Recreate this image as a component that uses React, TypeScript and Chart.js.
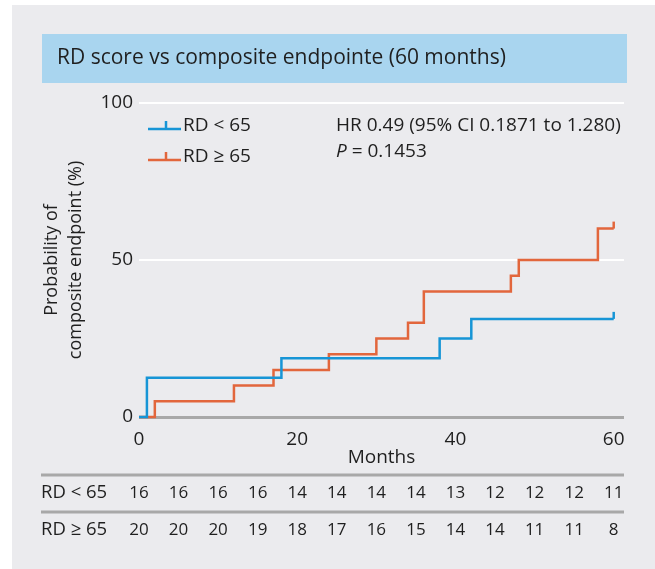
import React, { useEffect, useRef } from 'react';
import { Chart, registerables } from 'chart.js';

Chart.register(...registerables);

// ---------- data ----------
const TITLE = 'RD score vs composite endpointe (60 months)';
const SERIES_LOW = 'RD < 65';
const SERIES_HIGH = 'RD ≥ 65';
const X_TITLE = 'Months';
const Y_TITLE = ['Probability of', 'composite endpoint (%)'];
const HR_TEXT = 'HR 0.49 (95% CI 0.1871 to 1.280)';
const P_LABEL = 'P';
const P_VALUE = ' = 0.1453';

const lowTimes = [0, 1, 18, 38, 42, 60];
const lowProb = [0, 12.5, 18.75, 25, 31.25, 31.25];
const highTimes = [0, 2, 12, 17, 24, 30, 34, 36, 47, 48, 58, 60];
const highProb = [0, 5, 10, 15, 20, 25, 30, 40, 45, 50, 60, 60];
const lowCensor = [60];
const highCensor = [60];

const xTicks = [0, 20, 40, 60];
const yTicks = [0, 50, 100];

const riskTimes = [0, 5, 10, 15, 20, 25, 30, 35, 40, 45, 50, 55, 60];
const lowAtRisk = [16, 16, 16, 16, 14, 14, 14, 14, 13, 12, 12, 12, 11];
const highAtRisk = [20, 20, 20, 19, 18, 17, 16, 15, 14, 14, 11, 11, 8];

// ---------- styles ----------
const FONT = '"Open Sans", "Noto Sans", sans-serif';
const TEXT = '#1f1f1f';
const BLUE = '#1795d6';
const ORANGE = '#e2663c';
const PANEL = '#ebebee';
const BAND = '#a9d5ef';
const RULE = '#a8a8a8';

const toPoints = (t: number[], p: number[]) => t.map((x, i) => ({ x, y: p[i] }));
const valueAt = (t: number[], p: number[], time: number) => {
  let v = p[0];
  for (let i = 0; i < t.length; i++) if (t[i] <= time) v = p[i];
  return v;
};

const series = [
  { label: SERIES_LOW, color: BLUE, times: lowTimes, prob: lowProb, censor: lowCensor, risk: lowAtRisk },
  { label: SERIES_HIGH, color: ORANGE, times: highTimes, prob: highProb, censor: highCensor, risk: highAtRisk },
];

const decor = {
  id: 'decor',
  beforeDraw(chart: any) {
    const { ctx } = chart;
    ctx.save();
    ctx.fillStyle = PANEL;
    ctx.fillRect(12, 5, 643, 564);
    ctx.fillStyle = BAND;
    ctx.fillRect(42, 34, 585, 49);
    ctx.fillStyle = TEXT;
    ctx.font = `21px ${FONT}`;
    ctx.textBaseline = 'middle';
    ctx.textAlign = 'left';
    ctx.fillText(TITLE, 57, 58.5);
    ctx.restore();
  },
  afterDatasetsDraw(chart: any) {
    const { ctx } = chart;
    const xs = chart.scales.x;
    const ys = chart.scales.y;
    ctx.save();
    ctx.lineWidth = 2.5;
    series.forEach((s) => {
      ctx.strokeStyle = s.color;
      s.censor.forEach((c) => {
        const px = xs.getPixelForValue(c);
        const py = ys.getPixelForValue(valueAt(s.times, s.prob, c));
        ctx.beginPath();
        ctx.moveTo(px, py);
        ctx.lineTo(px, py - 7);
        ctx.stroke();
      });
    });
    ctx.restore();
  },
  afterDraw(chart: any) {
    const { ctx } = chart;
    const xs = chart.scales.x;
    ctx.save();
    // legend
    series.forEach((s, i) => {
      const y = 129 + i * 31;
      ctx.strokeStyle = s.color;
      ctx.lineWidth = 2.5;
      ctx.beginPath();
      ctx.moveTo(148, y);
      ctx.lineTo(181, y);
      ctx.moveTo(166, y);
      ctx.lineTo(166, y - 8);
      ctx.stroke();
      ctx.fillStyle = TEXT;
      ctx.font = `19px ${FONT}`;
      ctx.textBaseline = 'middle';
      ctx.textAlign = 'left';
      ctx.fillText(s.label, 183, y - 3);
    });
    // annotation
    ctx.fillStyle = TEXT;
    ctx.font = `19px ${FONT}`;
    ctx.fillText(HR_TEXT, 336, 126);
    ctx.font = `italic 19px ${FONT}`;
    ctx.fillText(P_LABEL, 336, 152);
    const pw = ctx.measureText(P_LABEL).width;
    ctx.font = `19px ${FONT}`;
    ctx.fillText(P_VALUE, 336 + pw, 152);
    // number-at-risk table
    ctx.strokeStyle = RULE;
    ctx.lineWidth = 3;
    [475, 512].forEach((y) => {
      ctx.beginPath();
      ctx.moveTo(41, y);
      ctx.lineTo(624, y);
      ctx.stroke();
    });
    series.forEach((s, i) => {
      const y = 493 + i * 37;
      ctx.font = `18.5px ${FONT}`;
      ctx.textAlign = 'left';
      ctx.fillText(s.label, 41, y);
      ctx.font = `17px ${FONT}`;
      ctx.textAlign = 'center';
      s.risk.forEach((n, j) => {
        ctx.fillText(String(n), xs.getPixelForValue(riskTimes[j]), y);
      });
    });
    ctx.restore();
  },
};

export default function App() {
  const ref = useRef<HTMLCanvasElement | null>(null);
  useEffect(() => {
    if (!ref.current) return;
    const chart = new Chart(ref.current, {
      type: 'line',
      data: {
        datasets: series.map((s) => ({
          label: s.label,
          data: toPoints(s.times, s.prob),
          borderColor: s.color,
          backgroundColor: s.color,
          borderWidth: 2.5,
          stepped: 'before' as const,
          pointRadius: 0,
          fill: false,
          clip: false as any,
        })),
      },
      options: {
        responsive: false,
        animation: false,
        devicePixelRatio: 1,
        layout: { padding: { left: 20, top: 103, right: 31, bottom: 98 } },
        plugins: { legend: { display: false }, tooltip: { enabled: false }, title: { display: false } },
        scales: {
          x: {
            type: 'linear',
            min: 0,
            max: 61.3,
            afterBuildTicks: (s: any) => {
              s.ticks = xTicks.map((v) => ({ value: v }));
            },
            afterFit: (s: any) => {
              s.height = 54;
            },
            grid: { display: false },
            border: { display: false },
            ticks: { color: TEXT, font: { family: FONT, size: 19 }, padding: 3, maxRotation: 0 },
            title: {
              display: true,
              text: X_TITLE,
              color: TEXT,
              font: { family: FONT, size: 19, lineHeight: 1.2 },
              padding: { top: 0, bottom: 2 },
            },
          },
          y: {
            min: 0,
            max: 100,
            afterBuildTicks: (s: any) => {
              s.ticks = yTicks.map((v) => ({ value: v }));
            },
            afterFit: (s: any) => {
              s.width = 119;
            },
            grid: {
              drawTicks: false,
              color: (c: any) => (c.tick && c.tick.value === 0 ? RULE : '#ffffff'),
              lineWidth: (c: any) => (c.tick && c.tick.value === 0 ? 3 : 2),
            },
            border: { display: false },
            ticks: { color: TEXT, font: { family: FONT, size: 19 }, padding: 6 },
            title: {
              display: true,
              text: Y_TITLE,
              color: TEXT,
              font: { family: FONT, size: 18, lineHeight: 1.333 },
              padding: { top: 20, bottom: 0 },
            },
          },
        },
      },
      plugins: [decor],
    });
    return () => chart.destroy();
  }, []);
  return (
    <div style={{ position: 'absolute', left: 0, top: 0, width: 655, height: 569 }}>
      <canvas ref={ref} width={655} height={569} style={{ display: 'block' }} />
    </div>
  );
}
